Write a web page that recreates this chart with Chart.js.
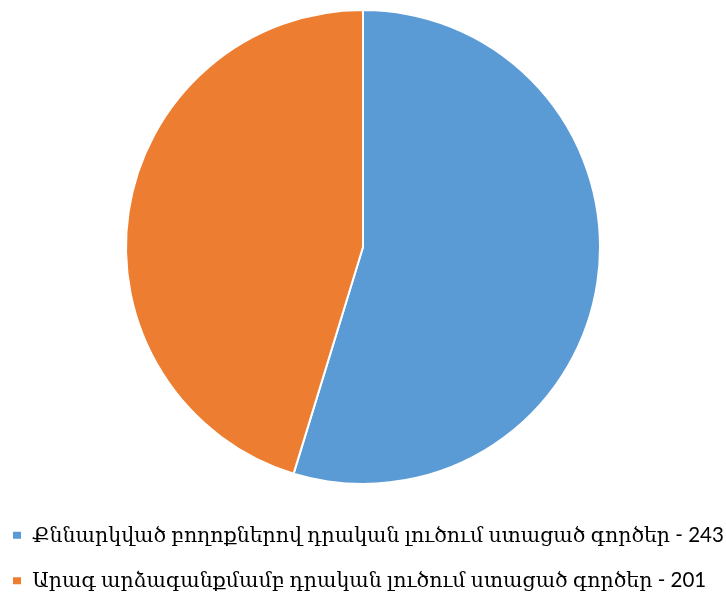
<!DOCTYPE html>
<html>
<head>
<meta charset="utf-8">
<script src="https://cdn.jsdelivr.net/npm/chart.js@4.4.0/dist/chart.umd.min.js"></script>
<style>
  html, body { margin: 0; padding: 0; background: #fff; }
  #wrap { width: 726px; height: 598px; }
</style>
</head>
<body>
<div id="wrap"><canvas id="pie"></canvas></div>
<script>
const categories = [
  'Քննարկված բողոքներով դրական լուծում ստացած գործեր',
  'Արագ արձագանքմամբ դրական լուծում ստացած գործեր'
];
const values = [243, 201];
const colors = ['#5B9BD5', '#ED7D31'];

// nudge the legend so it sits like the original
const legendShift = {
  id: 'legendShift',
  afterLayout(chart) {
    const l = chart.legend;
    l.left -= 13;
    l.top += 15; l.bottom += 15;
  }
};

new Chart(document.getElementById('pie'), {
  type: 'pie',
  data: {
    labels: categories.map((c, i) => c + ' - ' + values[i]),
    datasets: [{
      data: values,
      backgroundColor: colors,
      borderColor: '#ffffff',
      borderWidth: 2
    }]
  },
  options: {
    responsive: true,
    maintainAspectRatio: false,
    animation: false,
    layout: { padding: { top: 9, bottom: 12 } },
    plugins: {
      tooltip: { enabled: false },
      legend: {
        position: 'bottom',
        align: 'start',
        labels: {
          boxWidth: 10,
          boxHeight: 9,
          padding: 25,
          color: '#000',
          font: { family: "Lato, 'DejaVu Serif'", size: 20.5 }
        }
      }
    }
  },
  plugins: [legendShift]
});
</script>
</body>
</html>
